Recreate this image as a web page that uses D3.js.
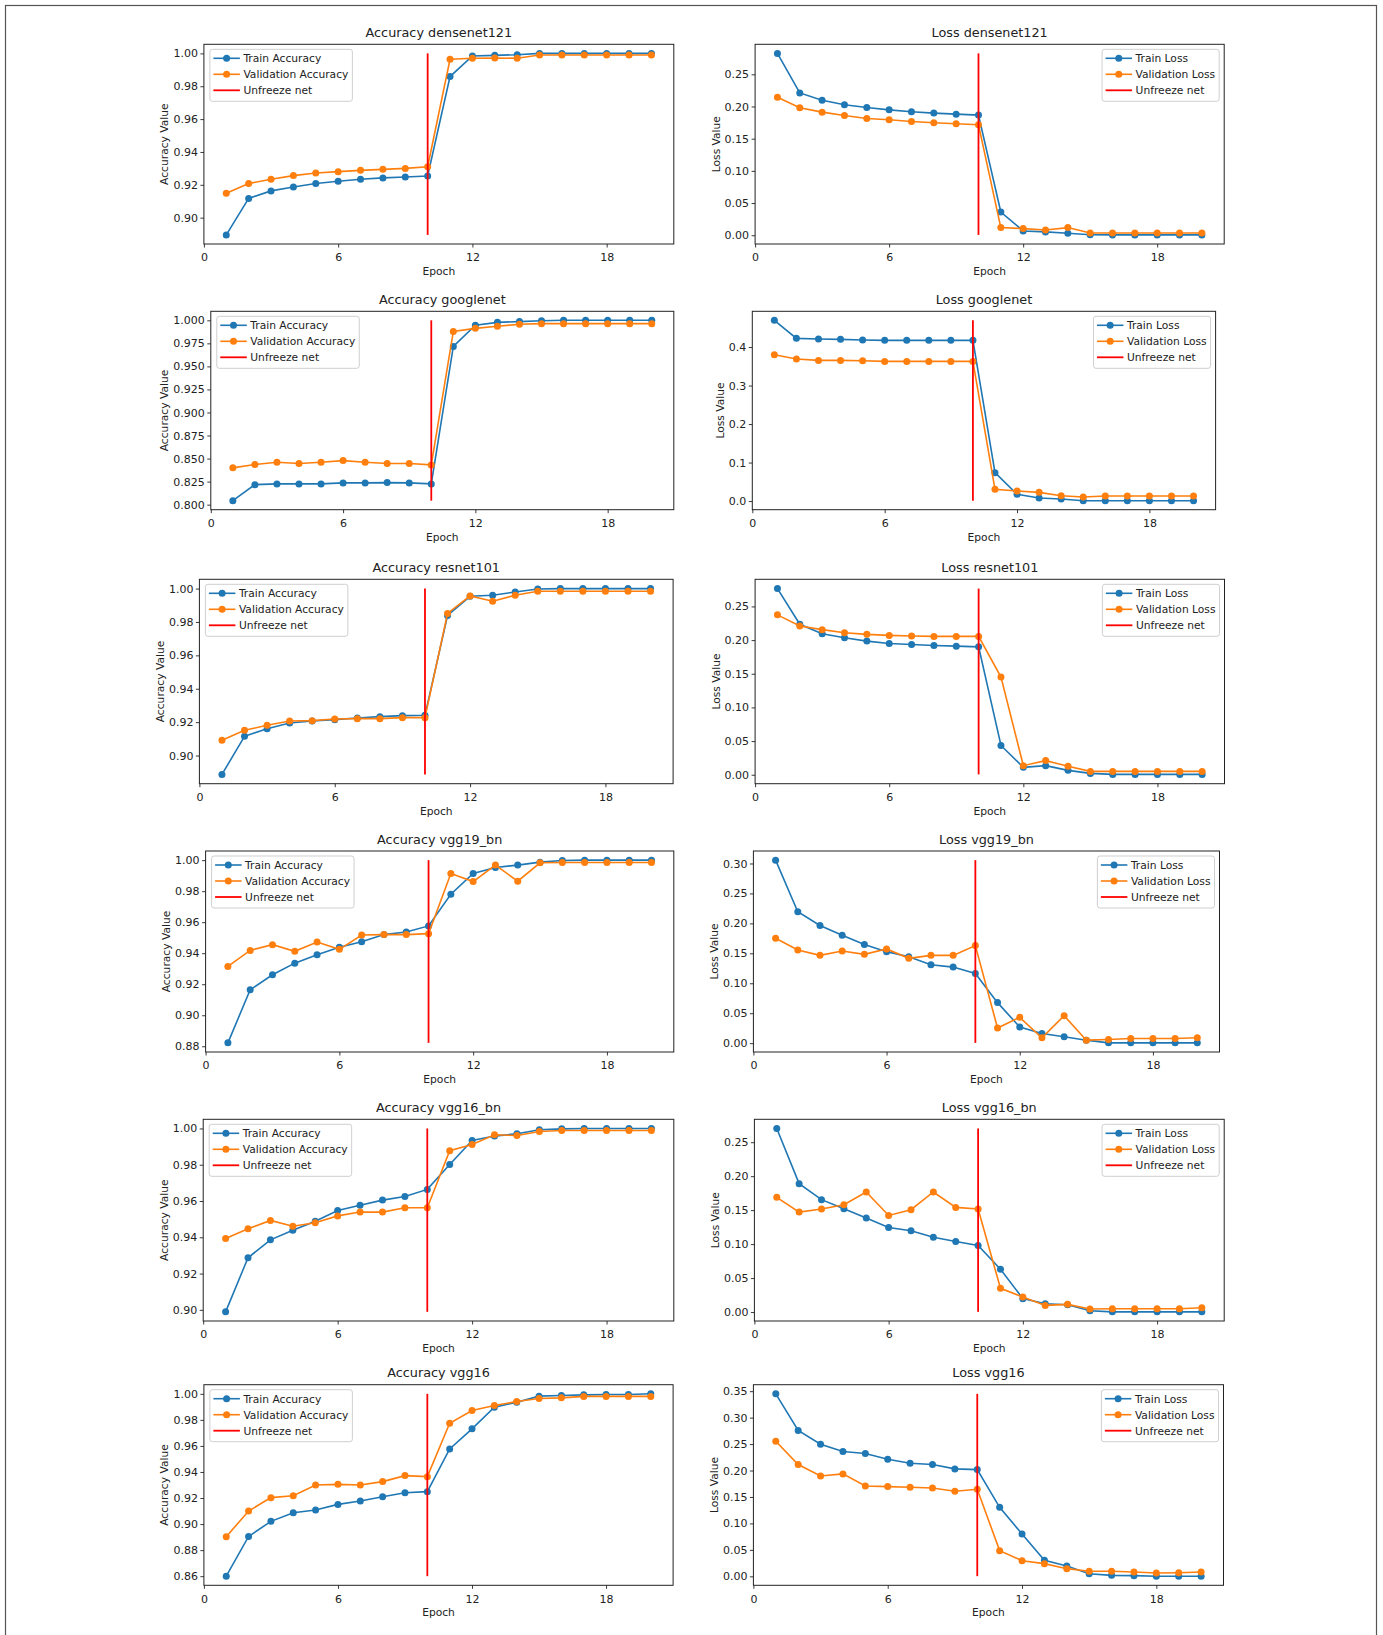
<!DOCTYPE html>
<html><head><meta charset="utf-8">
<script src="https://cdn.jsdelivr.net/npm/d3@7"></script>
<style>
body{margin:0;background:#fff}
svg text{font-family:"DejaVu Sans",sans-serif;fill:#222}
</style>
</head><body>
<svg id="c" width="1383" height="1635"></svg>
<script>
// ---------- data ----------
const epochs = [1,2,3,4,5,6,7,8,9,10,11,12,13,14,15,16,17,18,19,20];
const unfreezeEpoch = 10;
const xTickLabels = ["0","6","12","18"];

const densenetTrainAcc = [0.8895,0.9117,0.9163,0.9187,0.9208,0.9222,0.9234,0.9242,0.9248,0.9254,0.9859,0.9984,0.9988,0.9992,1.0,1.0,1.0,1.0,1.0,1.0];
const densenetValAcc   = [0.9149,0.9208,0.9234,0.9256,0.9272,0.9280,0.9288,0.9294,0.9300,0.9310,0.9964,0.9970,0.9972,0.9970,0.9990,0.9990,0.9990,0.9990,0.9990,0.9990];
const densenetTrainLoss= [0.2825,0.2211,0.2098,0.2026,0.1985,0.1948,0.1918,0.1897,0.1881,0.1866,0.0361,0.0067,0.0052,0.0031,0.0008,0.0005,0.0005,0.0005,0.0005,0.0005];
const densenetValLoss  = [0.2144,0.1979,0.1912,0.1861,0.1814,0.1794,0.1768,0.1747,0.1732,0.1716,0.0119,0.0103,0.0082,0.0119,0.0036,0.0036,0.0036,0.0036,0.0036,0.0036];

const googlenetTrainAcc = [0.8043,0.8217,0.8225,0.8225,0.8225,0.8236,0.8236,0.8239,0.8236,0.8225,0.9717,0.9946,0.9978,0.9986,0.9996,1.0,1.0,1.0,1.0,1.0];
const googlenetValAcc   = [0.8399,0.8435,0.8460,0.8446,0.8460,0.8478,0.8460,0.8446,0.8446,0.8431,0.9880,0.9913,0.9935,0.9957,0.9964,0.9964,0.9964,0.9964,0.9964,0.9964];
const googlenetTrainLoss= [0.4694,0.4226,0.4208,0.4200,0.4182,0.4174,0.4174,0.4174,0.4174,0.4174,0.0738,0.0174,0.0078,0.0052,0.0010,0.0010,0.0010,0.0010,0.0010,0.0010];
const googlenetValLoss  = [0.3800,0.3688,0.3653,0.3653,0.3645,0.3627,0.3627,0.3627,0.3627,0.3627,0.0304,0.0260,0.0226,0.0139,0.0104,0.0130,0.0130,0.0130,0.0130,0.0130];

const resnetTrainAcc = [0.8887,0.9115,0.9161,0.9195,0.9207,0.9215,0.9225,0.9233,0.9239,0.9241,0.9839,0.9954,0.9960,0.9980,0.9998,1.0,1.0,1.0,1.0,1.0];
const resnetValAcc   = [0.9091,0.9151,0.9181,0.9207,0.9209,0.9219,0.9221,0.9221,0.9227,0.9227,0.9851,0.9956,0.9924,0.9960,0.9984,0.9984,0.9984,0.9984,0.9984,0.9984];
const resnetTrainLoss= [0.2765,0.2235,0.2095,0.2035,0.1985,0.1950,0.1935,0.1920,0.1910,0.1900,0.0435,0.0110,0.0135,0.0065,0.0020,0.0005,0.0005,0.0005,0.0005,0.0005];
const resnetValLoss  = [0.2375,0.2210,0.2155,0.2110,0.2085,0.2070,0.2060,0.2055,0.2055,0.2055,0.1450,0.0135,0.0210,0.0125,0.0050,0.0050,0.0050,0.0050,0.0050,0.0050];

const vgg19bnTrainAcc = [0.8822,0.9164,0.9261,0.9336,0.9390,0.9438,0.9474,0.9520,0.9537,0.9576,0.9780,0.9914,0.9953,0.9968,0.9987,0.9998,1.0,1.0,1.0,1.0];
const vgg19bnValAcc   = [0.9315,0.9418,0.9455,0.9412,0.9472,0.9425,0.9517,0.9520,0.9520,0.9526,0.9914,0.9862,0.9968,0.9864,0.9983,0.9985,0.9985,0.9985,0.9985,0.9985];
const vgg19bnTrainLoss= [0.3056,0.2194,0.1965,0.1802,0.1646,0.1528,0.1444,0.1310,0.1270,0.1164,0.0677,0.0269,0.0162,0.0106,0.0050,0.0005,0.0005,0.0005,0.0005,0.0005];
const vgg19bnValLoss  = [0.1752,0.1556,0.1466,0.1539,0.1483,0.1573,0.1416,0.1466,0.1466,0.1629,0.0252,0.0431,0.0090,0.0459,0.0050,0.0062,0.0078,0.0078,0.0078,0.0090];

const vgg16bnTrainAcc = [0.8989,0.9287,0.9386,0.9439,0.9489,0.9548,0.9577,0.9605,0.9625,0.9664,0.9801,0.9934,0.9958,0.9971,0.9993,0.9998,1.0,1.0,1.0,1.0];
const vgg16bnValAcc   = [0.9393,0.9447,0.9493,0.9461,0.9480,0.9518,0.9539,0.9539,0.9563,0.9563,0.9877,0.9912,0.9965,0.9961,0.9983,0.9989,0.9989,0.9989,0.9989,0.9989];
const vgg16bnTrainLoss= [0.2702,0.1890,0.1654,0.1521,0.1383,0.1245,0.1196,0.1102,0.1038,0.0979,0.0630,0.0197,0.0123,0.0108,0.0020,0.0003,0.0003,0.0003,0.0003,0.0003];
const vgg16bnValLoss  = [0.1688,0.1471,0.1516,0.1580,0.1767,0.1422,0.1506,0.1767,0.1540,0.1516,0.0349,0.0221,0.0098,0.0113,0.0044,0.0049,0.0049,0.0049,0.0049,0.0064];

const vgg16TrainAcc = [0.8600,0.8905,0.9021,0.9087,0.9108,0.9151,0.9177,0.9210,0.9241,0.9249,0.9577,0.9731,0.9897,0.9936,0.9982,0.9987,0.9992,0.9995,0.9995,1.0];
const vgg16ValAcc   = [0.8903,0.9100,0.9203,0.9218,0.9300,0.9305,0.9300,0.9326,0.9372,0.9364,0.9774,0.9872,0.9910,0.9941,0.9964,0.9969,0.9980,0.9980,0.9980,0.9980];
const vgg16TrainLoss= [0.3450,0.2756,0.2497,0.2359,0.2321,0.2214,0.2138,0.2113,0.2031,0.2018,0.1305,0.0801,0.0303,0.0196,0.0050,0.0019,0.0013,0.0003,0.0003,0.0003];
const vgg16ValLoss  = [0.2554,0.2113,0.1898,0.1936,0.1709,0.1696,0.1684,0.1671,0.1608,0.1646,0.0486,0.0296,0.0240,0.0145,0.0095,0.0095,0.0082,0.0063,0.0069,0.0082];

const accTicks02 = ["0.90","0.92","0.94","0.96","0.98","1.00"];
const accTicks025 = ["0.800","0.825","0.850","0.875","0.900","0.925","0.950","0.975","1.000"];
const accTicksVgg19 = ["0.88","0.90","0.92","0.94","0.96","0.98","1.00"];
const accTicksVgg16 = ["0.86","0.88","0.90","0.92","0.94","0.96","0.98","1.00"];
const lossTicks025 = ["0.00","0.05","0.10","0.15","0.20","0.25"];
const lossTicks03 = ["0.00","0.05","0.10","0.15","0.20","0.25","0.30"];
const lossTicks035 = ["0.00","0.05","0.10","0.15","0.20","0.25","0.30","0.35"];
const lossTicksGoogle = ["0.0","0.1","0.2","0.3","0.4"];

const accLegend = ["Train Accuracy","Validation Accuracy","Unfreeze net"];
const lossLegend = ["Train Loss","Validation Loss","Unfreeze net"];

// ---------- layout (axes boxes: left, top, right, bottom) ----------
const panels = [
  {title:"Accuracy densenet121", ylab:"Accuracy Value", train:densenetTrainAcc, val:densenetValAcc, ticks:accTicks02, legend:accLegend, loc:"left", box:[203.9,44.3,673.8,244]},
  {title:"Loss densenet121", ylab:"Loss Value", train:densenetTrainLoss, val:densenetValLoss, ticks:lossTicks025, legend:lossLegend, loc:"right", box:[755.1,44.3,1224.2,244]},
  {title:"Accuracy googlenet", ylab:"Accuracy Value", train:googlenetTrainAcc, val:googlenetValAcc, ticks:accTicks025, legend:accLegend, loc:"left", box:[210.8,311.3,673.8,509.7]},
  {title:"Loss googlenet", ylab:"Loss Value", train:googlenetTrainLoss, val:googlenetValLoss, ticks:lossTicksGoogle, legend:lossLegend, loc:"right", box:[752.3,311.3,1215.6,509.7]},
  {title:"Accuracy resnet101", ylab:"Accuracy Value", train:resnetTrainAcc, val:resnetValAcc, ticks:accTicks02, legend:accLegend, loc:"left", box:[199.4,579.3,673.1,783.7]},
  {title:"Loss resnet101", ylab:"Loss Value", train:resnetTrainLoss, val:resnetValLoss, ticks:lossTicks025, legend:lossLegend, loc:"right", box:[755.1,579.3,1224.5,783.7]},
  {title:"Accuracy vgg19_bn", ylab:"Accuracy Value", train:vgg19bnTrainAcc, val:vgg19bnValAcc, ticks:accTicksVgg19, legend:accLegend, loc:"left", box:[205.6,851,673.8,1052]},
  {title:"Loss vgg19_bn", ylab:"Loss Value", train:vgg19bnTrainLoss, val:vgg19bnValLoss, ticks:lossTicks03, legend:lossLegend, loc:"right", box:[753.4,851,1219.5,1052]},
  {title:"Accuracy vgg16_bn", ylab:"Accuracy Value", train:vgg16bnTrainAcc, val:vgg16bnValAcc, ticks:accTicks02, legend:accLegend, loc:"left", box:[203.2,1119.3,673.8,1321]},
  {title:"Loss vgg16_bn", ylab:"Loss Value", train:vgg16bnTrainLoss, val:vgg16bnValLoss, ticks:lossTicks025, legend:lossLegend, loc:"right", box:[754.4,1119.3,1224.2,1321]},
  {title:"Accuracy vgg16", ylab:"Accuracy Value", train:vgg16TrainAcc, val:vgg16ValAcc, ticks:accTicksVgg16, legend:accLegend, loc:"left", box:[203.9,1384.7,673.1,1585.3]},
  {title:"Loss vgg16", ylab:"Loss Value", train:vgg16TrainLoss, val:vgg16ValLoss, ticks:lossTicks035, legend:lossLegend, loc:"right", box:[753.4,1384.7,1223.5,1585.3]}
];

const C_TRAIN = "#1f77b4", C_VAL = "#ff7f0e", C_RED = "#ff0000";
const FS_TICK = 11, FS_LAB = 10.7, FS_LEG = 10.7, FS_TITLE = 12.8;
const svg = d3.select("#c");
svg.append("rect").attr("x",0).attr("y",0).attr("width",1383).attr("height",1635).attr("fill","#fff");
svg.append("rect").attr("x",5.5).attr("y",5.5).attr("width",1371).attr("height",1700)
   .attr("fill","none").attr("stroke","#555").attr("stroke-width",1.2);

function drawPanel(p){
  const [L,T,R,B] = p.box;
  const all = p.train.concat(p.val);
  const [mn,mx] = d3.extent(all);
  const pad = (mx-mn)*0.05;
  const x = d3.scaleLinear().domain([0,21]).range([L,R]);
  const y = d3.scaleLinear().domain([mn-pad,mx+pad]).range([B,T]);
  const g = svg.append("g");

  const xa = g.append("g").attr("transform",`translate(0,${B})`)
    .call(d3.axisBottom(x).tickValues(xTickLabels.map(Number)).tickFormat((d,i)=>xTickLabels[i]).tickSize(3.5).tickPadding(6));
  const ya = g.append("g").attr("transform",`translate(${L},0)`)
    .call(d3.axisLeft(y).tickValues(p.ticks.map(Number)).tickFormat((d,i)=>p.ticks[i]).tickSize(3.5).tickPadding(2.5));
  [xa,ya].forEach(a=>{
    a.attr("font-family",null).attr("font-size",null);
    a.select(".domain").remove();
    a.selectAll(".tick line").attr("stroke","#222").attr("stroke-width",0.9);
    a.selectAll(".tick text").style("font-size",FS_TICK+"px").style("fill","#222");
  });

  // series
  const line = d3.line().x((d,i)=>x(epochs[i])).y(d=>y(d));
  [[p.train,C_TRAIN],[p.val,C_VAL]].forEach(([s,c])=>{
    g.append("path").datum(s).attr("d",line).attr("fill","none").attr("stroke",c).attr("stroke-width",1.6);
    g.selectAll(null).data(s).enter().append("circle")
      .attr("cx",(d,i)=>x(epochs[i])).attr("cy",d=>y(d)).attr("r",3.5).attr("fill",c);
  });
  // unfreeze line
  g.append("line").attr("x1",x(unfreezeEpoch)).attr("x2",x(unfreezeEpoch))
    .attr("y1",y(mn)).attr("y2",y(mx)).attr("stroke",C_RED).attr("stroke-width",1.8);

  // frame
  g.append("rect").attr("x",L).attr("y",T).attr("width",R-L).attr("height",B-T)
    .attr("fill","none").attr("stroke","#222").attr("stroke-width",1);

  // title & labels
  g.append("text").attr("x",(L+R)/2).attr("y",T-7.5).attr("text-anchor","middle")
    .style("font-size",FS_TITLE+"px").text(p.title);
  g.append("text").attr("x",(L+R)/2).attr("y",B+31).attr("text-anchor","middle")
    .style("font-size",FS_LAB+"px").text("Epoch");
  const bb = ya.node().getBBox();
  g.append("text").attr("transform",`translate(${L+bb.x-5},${(T+B)/2}) rotate(-90)`)
    .attr("text-anchor","middle").style("font-size",FS_LAB+"px").text(p.ylab);

  // legend
  const lg = g.append("g");
  const tmp = lg.append("g");
  const texts = p.legend.map(t=>tmp.append("text").style("font-size",FS_LEG+"px").text(t));
  const tw = d3.max(texts, t=>t.node().getComputedTextLength());
  tmp.remove();
  const w = 33.5 + tw + 4, h = 52;
  const lx = p.loc==="left" ? L+6 : R-5-w, ly = T+5;
  lg.append("rect").attr("x",lx).attr("y",ly).attr("width",w).attr("height",h).attr("rx",2.5)
    .attr("fill","#fff").attr("fill-opacity",0.85).attr("stroke","#cfcfcf").attr("stroke-width",1);
  const cols = [C_TRAIN,C_VAL,C_RED];
  p.legend.forEach((t,i)=>{
    const cy = ly + 9 + i*16;
    lg.append("line").attr("x1",lx+3.5).attr("x2",lx+30).attr("y1",cy).attr("y2",cy)
      .attr("stroke",cols[i]).attr("stroke-width",i===2?1.8:1.6);
    if(i<2) lg.append("circle").attr("cx",lx+16.7).attr("cy",cy).attr("r",3.5).attr("fill",cols[i]);
    lg.append("text").attr("x",lx+33.5).attr("y",cy+3.8).style("font-size",FS_LEG+"px").text(t);
  });
}
panels.forEach(drawPanel);
</script>
</body></html>
